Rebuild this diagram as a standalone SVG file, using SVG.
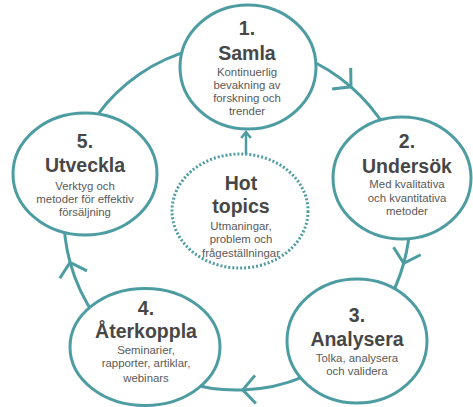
<svg xmlns="http://www.w3.org/2000/svg" width="473" height="407" viewBox="0 0 473 407">
<style>
.ring{fill:none;stroke:#4d9ca2;stroke-width:3}
.node{fill:#fff;stroke:#4d9ca2;stroke-width:3}
.hot{fill:#fff;stroke:#4d9ca2;stroke-width:3;stroke-dasharray:2 2}
text{font-family:"Liberation Sans",Arial,sans-serif;text-anchor:middle}
.num,.ttl{font-size:19.5px;font-weight:bold;fill:#474747}
.desc{font-size:11.4px;fill:#595959}
</style>
<defs>
<marker id="v" markerUnits="userSpaceOnUse" orient="auto" overflow="visible" markerWidth="1" markerHeight="1"><path d="M-12.7,-14.1 L0,0 L-12.7,14.1" fill="none" stroke="#4d9ca2" stroke-width="3"/></marker>
<marker id="vs" markerUnits="userSpaceOnUse" orient="auto" overflow="visible" markerWidth="1" markerHeight="1"><path d="M-6,-4.8 L0,0 L-6,4.8" fill="none" stroke="#4d9ca2" stroke-width="2.5"/></marker>
</defs>
<g id="connectors">
<path id="c12" class="ring" marker-mid="url(#v)" d="M249.07,44.42 A173,173 0 0 1 350.96,86.83 A173,173 0 0 1 405.57,178.08"/>
<path id="c23" class="ring" marker-mid="url(#v)" d="M405.57,178.08 A173,173 0 0 1 403.71,263.23 A173,173 0 0 1 357.18,341.44"/>
<path id="c34" class="ring" marker-mid="url(#v)" d="M357.18,341.44 A173,173 0 0 1 242.74,389.9 A173,173 0 0 1 137.77,358.72"/>
<path id="c45" class="ring" marker-mid="url(#v)" d="M137.77,358.72 A173,173 0 0 1 70.06,262.36 A173,173 0 0 1 71.56,166.42"/>
<path id="c51" class="ring" d="M71.56,166.42 A173,173 0 0 1 249.07,44.42"/>
<path id="chot" class="ring" style="stroke-width:2.5" marker-end="url(#vs)" d="M246,154 L246,132"/>
</g>
<g id="n1">
<ellipse class="node" cx="248" cy="67" rx="68" ry="62"/>
<text class="num" x="247" y="34.5">1.</text>
<text class="ttl" x="247" y="60">Samla</text>
<text class="desc" x="247" y="76">Kontinuerlig</text>
<text class="desc" x="247" y="89.3">bevakning av</text>
<text class="desc" x="247" y="102">forskning och</text>
<text class="desc" x="247" y="115">trender</text>
</g>
<g id="n2">
<ellipse class="node" cx="402" cy="178" rx="69" ry="61"/>
<text class="num" x="407" y="147.7">2.</text>
<text class="ttl" x="407" y="172.7">Undersök</text>
<text class="desc" x="407" y="188.3">Med kvalitativa</text>
<text class="desc" x="407" y="201.7">och kvantitativa</text>
<text class="desc" x="407" y="215">metoder</text>
</g>
<g id="n3">
<ellipse class="node" cx="357" cy="341" rx="70" ry="62"/>
<text class="num" x="357" y="321.7">3.</text>
<text class="ttl" x="357" y="346">Analysera</text>
<text class="desc" x="357" y="361.7">Tolka, analysera</text>
<text class="desc" x="357" y="375">och validera</text>
</g>
<g id="n4">
<ellipse class="node" cx="145" cy="347" rx="75" ry="58.5"/>
<text class="num" x="146" y="315">4.</text>
<text class="ttl" x="146" y="338.3">Återkoppla</text>
<text class="desc" x="146" y="354">Seminarier,</text>
<text class="desc" x="146" y="367.3">rapporter, artiklar,</text>
<text class="desc" x="146" y="382">webinars</text>
</g>
<g id="n5">
<ellipse class="node" cx="85" cy="174" rx="72" ry="61"/>
<text class="num" x="85" y="148.3">5.</text>
<text class="ttl" x="85" y="171.7">Utveckla</text>
<text class="desc" x="85" y="190">Verktyg och</text>
<text class="desc" x="85" y="203">metoder för effektiv</text>
<text class="desc" x="85" y="216">försäljning</text>
</g>
<g id="hot">
<ellipse class="hot" cx="240" cy="211" rx="68" ry="57"/>
<text class="ttl" x="241" y="190">Hot</text>
<text class="ttl" x="241" y="213.3">topics</text>
<text class="desc" x="241" y="230">Utmaningar,</text>
<text class="desc" x="241" y="243.3">problem och</text>
<text class="desc" x="241" y="257">frågeställningar</text>
</g>
</svg>
